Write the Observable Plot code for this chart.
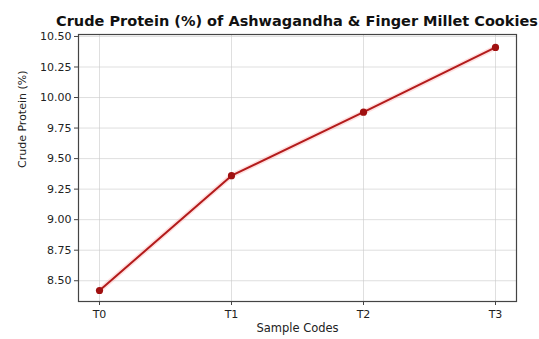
<!DOCTYPE html>
<html>
<head>
<meta charset="utf-8">
<script src="https://cdn.jsdelivr.net/npm/d3@7"></script>
<script src="https://cdn.jsdelivr.net/npm/@observablehq/plot@0.6"></script>
<style>
  html, body { margin: 0; padding: 0; background: #fff; }
  #title { width: 539px; height: 30px; box-sizing: border-box; padding-left: 55px; padding-top: 14px;
    font: bold 14.5px "DejaVu Sans", sans-serif; color: #111; text-align: center; white-space: nowrap; line-height: 15px; }
  svg { display: block; }
</style>
</head>
<body>
<div id="title">Crude Protein (%) of Ashwagandha &amp; Finger Millet Cookies</div>
<div id="chart"></div>
<script>
const samples = ["T0", "T1", "T2", "T3"];
const protein = [8.42, 9.36, 9.88, 10.41];
const yTicks = [8.5, 8.75, 9.0, 9.25, 9.5, 9.75, 10.0, 10.25, 10.5];

const data = samples.map((s, i) => ({sample: s, value: protein[i]}));

const chart = Plot.plot({
  width: 539,
  height: 309,
  marginTop: 4,
  marginBottom: 38,
  marginLeft: 78,
  marginRight: 23,
  style: {fontFamily: "DejaVu Sans, sans-serif", fontSize: "11px", color: "#222", background: "#fff"},
  x: {type: "point", domain: samples, padding: 0.15, label: null},
  y: {domain: [8.33, 10.516], label: null},
  marks: [
    Plot.gridX(samples, {stroke: "#ccc", strokeOpacity: 0.8, strokeWidth: 0.8}),
    Plot.gridY(yTicks, {stroke: "#ccc", strokeOpacity: 0.8, strokeWidth: 0.8}),
    Plot.frame({stroke: "#444", strokeWidth: 1.2}),
    Plot.axisX(samples, {tickSize: 4, tickPadding: 5, stroke: "#444", fill: "#222", fontSize: 11}),
    Plot.axisY(yTicks, {tickSize: 4, tickPadding: 3, stroke: "#444", fill: "#222", fontSize: 11, tickFormat: d3.format(".2f")}),
    Plot.line(data, {x: "sample", y: "value", stroke: "#ff8080", strokeWidth: 5, strokeOpacity: 0.25}),
    Plot.line(data, {x: "sample", y: "value", stroke: "#b31b1b", strokeWidth: 2}),
    Plot.dot(data, {x: "sample", y: "value", fill: "#a01010", r: 3.6}),
    Plot.text(["Sample Codes"], {frameAnchor: "bottom", dy: 30, fontSize: 11.5, fill: "#222"}),
    Plot.text(["Crude Protein (%)"], {frameAnchor: "left", dx: -56, rotate: -90, fontSize: 11, fill: "#222"})
  ]
});
document.getElementById("chart").appendChild(chart);
</script>
</body>
</html>
